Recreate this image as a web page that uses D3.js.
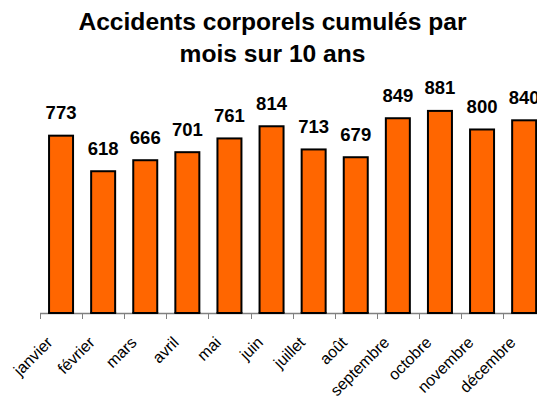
<!DOCTYPE html>
<html>
<head>
<meta charset="utf-8">
<script src="https://cdn.jsdelivr.net/npm/d3@7"></script>
<style>
  html, body { margin: 0; padding: 0; background: #fff; overflow: hidden; }
  svg { display: block; }
  text { font-family: "Liberation Sans", Arial, Helvetica, sans-serif; }
</style>
</head>
<body>
<svg id="chart" width="537" height="396"></svg>
<script>
// Monthly cumulative injury accidents over ten years
const months = ["janvier", "février", "mars", "avril", "mai", "juin",
                "juillet", "août", "septembre", "octobre", "novembre", "décembre"];
const accidents = [773, 618, 666, 701, 761, 814, 713, 679, 849, 881, 800, 840];
const titleLines = ["Accidents corporels cumulés par", "mois sur 10 ans"];
const yDomain = [0, 1000];

const svg = d3.select("#chart");

const baseY = 313;
const x = d3.scaleBand()
  .domain(months)
  .range([40, 40 + 12 * 42.1])
  .paddingInner(0)
  .paddingOuter(0);
const y = d3.scaleLinear().domain(yDomain).range([baseY, 83.6]);

const barW = x.bandwidth() * 0.57;

// Title
svg.append("g")
  .selectAll("text")
  .data(titleLines)
  .join("text")
  .attr("x", 272.5)
  .attr("y", (d, i) => 29.5 + i * 32.4)
  .attr("text-anchor", "middle")
  .attr("font-size", "24.6px")
  .attr("font-weight", "bold")
  .attr("fill", "#000")
  .text(d => d);

const data = months.map((m, i) => ({ month: m, value: accidents[i] }));

// Bars
svg.append("g")
  .selectAll("rect")
  .data(data)
  .join("rect")
  .attr("x", d => x(d.month) + (x.bandwidth() - barW) / 2)
  .attr("y", d => y(d.value))
  .attr("width", barW)
  .attr("height", d => baseY - y(d.value))
  .attr("fill", "#FF6600")
  .attr("stroke", "#000")
  .attr("stroke-width", 2);

// Category axis: baseline with ticks at band edges
const axisG = svg.append("g");
axisG.append("line")
  .attr("x1", x.range()[0])
  .attr("x2", x.range()[1])
  .attr("y1", baseY + 0.5)
  .attr("y2", baseY + 0.5)
  .attr("stroke", "#808080")
  .attr("stroke-width", 1.5);

axisG.selectAll("line.tick")
  .data(months)
  .join("line")
  .attr("class", "tick")
  .attr("x1", d => Math.round(x(d)) + 0.5)
  .attr("x2", d => Math.round(x(d)) + 0.5)
  .attr("y1", baseY)
  .attr("y2", baseY + 6)
  .attr("stroke", "#808080")
  .attr("stroke-width", 1);

// Bar bottoms drawn over the axis line
svg.append("g")
  .selectAll("line")
  .data(data)
  .join("line")
  .attr("x1", d => x(d.month) + (x.bandwidth() - barW) / 2 - 1)
  .attr("x2", d => x(d.month) + (x.bandwidth() + barW) / 2 + 1)
  .attr("y1", baseY)
  .attr("y2", baseY)
  .attr("stroke", "#000")
  .attr("stroke-width", 2);

// Rotated month labels
axisG.selectAll("text")
  .data(months)
  .join("text")
  .attr("text-anchor", "end")
  .attr("font-size", "16px")
  .attr("fill", "#000")
  .attr("transform", d => `translate(${x(d) + x.bandwidth() / 2 - 7.5},343.5) rotate(-45)`)
  .text(d => d);

// Value labels above bars
svg.append("g")
  .selectAll("text")
  .data(data)
  .join("text")
  .attr("x", d => x(d.month) + x.bandwidth() / 2)
  .attr("y", d => y(d.value) - 16.5)
  .attr("text-anchor", "middle")
  .attr("font-size", "18.5px")
  .attr("font-weight", "bold")
  .attr("fill", "#000")
  .text(d => d.value);
</script>
</body>
</html>
